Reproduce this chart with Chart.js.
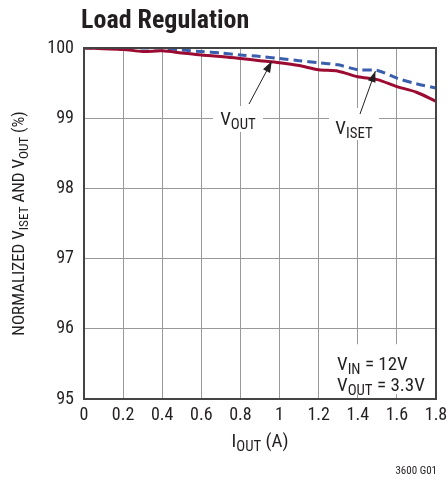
<!DOCTYPE html>
<html>
<head>
<meta charset="utf-8">
<script src="https://cdn.jsdelivr.net/npm/chart.js@4/dist/chart.umd.min.js"></script>
<style>
  html, body { margin: 0; padding: 0; background: #fff; }
  #wrap { width: 448px; height: 481px; position: relative; }
</style>
</head>
<body>
<div id="wrap"><canvas id="c" width="448" height="481"></canvas></div>
<script>
// Load regulation curves
const ioutA = [0, 0.1, 0.2, 0.3, 0.4, 0.5, 0.6, 0.7, 0.8, 0.9, 1.0, 1.1, 1.2, 1.3, 1.4, 1.5, 1.6, 1.7, 1.8];
const vout  = [100.0, 99.99, 99.98, 99.95, 99.96, 99.93, 99.90, 99.88, 99.85, 99.82, 99.79, 99.75, 99.69, 99.67, 99.59, 99.55, 99.45, 99.37, 99.24];
const viset = [100.0, 100.0, 100.0, 100.0, 100.0, 99.97, 99.95, 99.93, 99.90, 99.88, 99.85, 99.82, 99.79, 99.76, 99.69, 99.68, 99.57, 99.49, 99.43];
const xTicks = [0, 0.2, 0.4, 0.6, 0.8, 1, 1.2, 1.4, 1.6, 1.8];
const yTicks = [95, 96, 97, 98, 99, 100];

const FONT = '"Liberation Sans Narrow", "Roboto Condensed", "Liberation Sans", sans-serif';
const INK = '#231f20';

function pts(xs, ys) {
  return xs.map((x, i) => ({ x, y: ys[i] }));
}

// text with a subscript part, returns width drawn
function subText(ctx, parts, x, y, size, align) {
  const widths = parts.map(p => {
    ctx.font = (p.sub ? size * 0.78 : size) + 'px ' + FONT;
    return ctx.measureText(p.t).width;
  });
  const total = widths.reduce((a, b) => a + b, 0);
  let cx = align === 'center' ? x - total / 2 : align === 'right' ? x - total : x;
  ctx.textAlign = 'left';
  ctx.textBaseline = 'alphabetic';
  parts.forEach((p, i) => {
    ctx.font = (p.sub ? size * 0.78 : size) + 'px ' + FONT;
    ctx.fillText(p.t, cx, y + (p.sub ? size * 0.22 : 0));
    cx += widths[i];
  });
  return total;
}

function arrow(ctx, x1, y1, x2, y2) {
  ctx.save();
  ctx.strokeStyle = INK;
  ctx.fillStyle = INK;
  ctx.lineWidth = 1;
  ctx.beginPath();
  ctx.moveTo(x1, y1);
  ctx.lineTo(x2, y2);
  ctx.stroke();
  const a = Math.atan2(y2 - y1, x2 - x1);
  const L = 11, W = 4;
  ctx.beginPath();
  ctx.moveTo(x2, y2);
  ctx.lineTo(x2 - L * Math.cos(a) + W * Math.sin(a), y2 - L * Math.sin(a) - W * Math.cos(a));
  ctx.lineTo(x2 - L * Math.cos(a) - W * Math.sin(a), y2 - L * Math.sin(a) + W * Math.cos(a));
  ctx.closePath();
  ctx.fill();
  ctx.restore();
}

const decor = {
  id: 'decor',
  beforeDatasetsDraw(chart) {
    const { ctx, scales: { x, y } } = chart;
    ctx.save();
    ctx.fillStyle = '#fff';
    // white boxes behind annotations (cover grid)
    ctx.fillRect(x.getPixelForValue(1.37), y.getPixelForValue(95.78), 102, 50);
    ctx.fillRect(213, 106, 50, 26);
    ctx.fillRect(329, 108, 50, 32);
    ctx.restore();
  },
  afterDraw(chart) {
    const { ctx, chartArea: ca, scales: { x, y } } = chart;
    ctx.save();
    // frame
    ctx.strokeStyle = '#444';
    ctx.lineWidth = 2;
    ctx.strokeRect(ca.left, ca.top, ca.right - ca.left, ca.bottom - ca.top);

    ctx.fillStyle = INK;
    // title
    ctx.font = 'bold 26px ' + FONT;
    ctx.textAlign = 'left';
    ctx.textBaseline = 'alphabetic';
    ctx.fillText('Load Regulation', 81, 28);

    // curve labels
    subText(ctx, [{ t: 'V' }, { t: 'OUT', sub: true }], 238, 125, 19, 'center');
    subText(ctx, [{ t: 'V' }, { t: 'ISET', sub: true }], 354, 134, 19, 'center');
    arrow(ctx, 249, 104, x.getPixelForValue(0.96), y.getPixelForValue(99.81));
    arrow(ctx, 360, 114, x.getPixelForValue(1.49), y.getPixelForValue(99.67));

    // conditions
    subText(ctx, [{ t: 'V' }, { t: 'IN', sub: true }, { t: ' = 12V' }], 337, 370, 19, 'left');
    subText(ctx, [{ t: 'V' }, { t: 'OUT', sub: true }, { t: ' = 3.3V' }], 337, 391, 19, 'left');

    // x axis title
    subText(ctx, [{ t: 'I' }, { t: 'OUT', sub: true }, { t: ' (A)' }], (ca.left + ca.right) / 2, 447, 19, 'center');

    // y axis title, rotated
    ctx.save();
    ctx.translate(24, (ca.top + ca.bottom) / 2);
    ctx.rotate(-Math.PI / 2);
    subText(ctx, [{ t: 'NORMALIZED V' }, { t: 'ISET', sub: true }, { t: ' AND V' }, { t: 'OUT', sub: true }, { t: ' (%)' }], 0, 0, 17, 'center');
    ctx.restore();

    // figure code
    ctx.font = '11px ' + FONT;
    ctx.textAlign = 'right';
    ctx.fillText('3600 G01', 437, 474);
    ctx.restore();
  }
};

new Chart(document.getElementById('c'), {
  type: 'line',
  data: {
    datasets: [
      {
        label: 'VISET',
        data: pts(ioutA, viset),
        borderColor: '#3a5eae',
        borderWidth: 3,
        borderDash: [9, 5],
        pointRadius: 0,
        tension: 0.3,
        order: 2
      },
      {
        label: 'VOUT',
        data: pts(ioutA, vout),
        borderColor: '#9c0b31',
        borderWidth: 3,
        pointRadius: 0,
        tension: 0.3,
        order: 1
      }
    ]
  },
  options: {
    responsive: false,
    animation: false,
    layout: { padding: { left: 0, right: 12, top: 48, bottom: 0 } },
    plugins: { legend: { display: false }, tooltip: { enabled: false } },
    scales: {
      x: {
        type: 'linear',
        min: 0,
        max: 1.8,
        afterBuildTicks: s => { s.ticks = xTicks.map(v => ({ value: v })); },
        afterFit: s => { s.height = 82; s.paddingLeft = 0; s.paddingRight = 0; },
        grid: { color: '#999', lineWidth: 1, drawTicks: false },
        border: { display: false },
        ticks: {
          color: INK,
          padding: 6,
          maxRotation: 0,
          autoSkip: false,
          font: { family: FONT, size: 18 },
          callback: v => String(v)
        }
      },
      y: {
        min: 95,
        max: 100,
        afterBuildTicks: s => { s.ticks = yTicks.map(v => ({ value: v })); },
        afterFit: s => { s.width = 84; s.paddingTop = 0; s.paddingBottom = 0; },
        grid: { color: '#999', lineWidth: 1, drawTicks: false },
        border: { display: false },
        ticks: {
          color: INK,
          padding: 10,
          font: { family: FONT, size: 18 }
        }
      }
    }
  },
  plugins: [decor]
});
</script>
</body>
</html>
